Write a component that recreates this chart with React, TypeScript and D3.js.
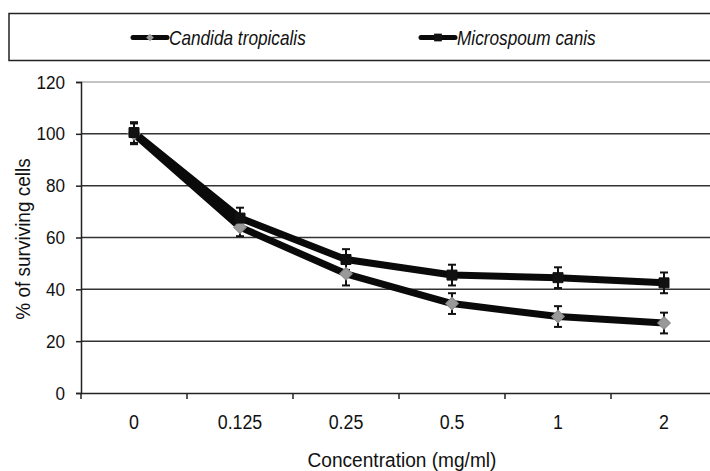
import { useEffect, useRef } from "react";
import * as d3 from "d3";

const categories = ["0", "0.125", "0.25", "0.5", "1", "2"];
const candida = [100, 64, 46, 34.5, 29.5, 27];
const candidaErr = [4, 3.5, 4.5, 4, 4, 4];
const microsporum = [100.5, 67.5, 51.5, 45.5, 44.5, 42.5];
const microsporumErr = [4, 4, 4, 4, 4, 4];
const yTicks = [0, 20, 40, 60, 80, 100, 120];

const FONT = "'Liberation Sans', Arial, sans-serif";

// the original uses a narrow face; squeeze Liberation Sans sideways
function narrow(sel: any, k: number, origin: string) {
  sel
    .style("transform-box", "fill-box")
    .style("transform-origin", origin)
    .style("transform", `scaleX(${k})`);
}

export default function App() {
  const svgRef = useRef<SVGSVGElement>(null);

  useEffect(() => {
    if (!svgRef.current) return;
    const svg = d3.select(svgRef.current);
    svg.selectAll("*").remove();

    const width = 710;
    const height = 471;
    const left = 81;
    const right = 717; // plot runs a bit past the picture edge
    const top = 82;
    const bottom = 393;

    svg.append("rect").attr("width", width).attr("height", height).attr("fill", "#fff");

    const x = d3.scaleBand<string>().domain(categories).range([left, right]).padding(0);
    const y = d3.scaleLinear().domain([0, 120]).range([bottom, top]);
    const cx = (i: number) => (x(categories[i]) ?? 0) + x.bandwidth() / 2;

    // gridlines
    svg
      .append("g")
      .selectAll("line")
      .data(yTicks.filter((t) => t > 0))
      .join("line")
      .attr("x1", left)
      .attr("x2", right)
      .attr("y1", (d) => y(d))
      .attr("y2", (d) => y(d))
      .attr("stroke", (d) => (d === 120 ? "#b0b0b0" : "#333"))
      .attr("stroke-width", 1.5);

    // y axis
    const yAxis = svg
      .append("g")
      .attr("transform", `translate(${left},0)`)
      .call(d3.axisLeft(y).tickValues(yTicks).tickSize(5).tickPadding(11));
    yAxis.select(".domain").attr("stroke", "#222").attr("stroke-width", 1.5);
    yAxis.selectAll(".tick line").attr("stroke", "#222").attr("stroke-width", 1.5);
    const yText = yAxis
      .selectAll(".tick text")
      .attr("font-family", FONT)
      .attr("font-size", 19)
      .attr("fill", "#111");
    narrow(yText, 0.9, "right center");

    // x axis
    const xAxis = svg
      .append("g")
      .attr("transform", `translate(0,${bottom})`)
      .call(d3.axisBottom(x).tickSize(0).tickPadding(22));
    xAxis.select(".domain").attr("stroke", "#222").attr("stroke-width", 1.5);
    const xText = xAxis
      .selectAll(".tick text")
      .attr("font-family", FONT)
      .attr("font-size", 20)
      .attr("fill", "#111");
    narrow(xText, 0.89, "center");
    // boundary ticks between categories
    svg
      .append("g")
      .selectAll("line")
      .data(categories)
      .join("line")
      .attr("x1", (d) => x(d) ?? 0)
      .attr("x2", (d) => x(d) ?? 0)
      .attr("y1", bottom)
      .attr("y2", bottom + 6)
      .attr("stroke", "#222")
      .attr("stroke-width", 1.5);

    // axis titles
    const xTitle = svg
      .append("text")
      .attr("x", 402)
      .attr("y", 467)
      .attr("text-anchor", "middle")
      .attr("font-family", FONT)
      .attr("font-size", 21)
      .attr("fill", "#111")
      .text("Concentration (mg/ml)");
    narrow(xTitle, 0.91, "center");
    const yTitle = svg
      .append("g")
      .attr("transform", `translate(30,239) rotate(-90)`)
      .append("text")
      .attr("text-anchor", "middle")
      .attr("font-family", FONT)
      .attr("font-size", 20)
      .attr("fill", "#111")
      .text("% of surviving cells");
    narrow(yTitle, 0.95, "center");

    const line = d3
      .line<number>()
      .x((_, i) => cx(i))
      .y((d) => y(d));

    const series = [
      { name: "Candida tropicalis", values: candida, err: candidaErr, marker: "diamond" },
      { name: "Microspoum canis", values: microsporum, err: microsporumErr, marker: "square" },
    ];

    series.forEach((s) => {
      svg
        .append("path")
        .datum(s.values)
        .attr("d", line)
        .attr("fill", "none")
        .attr("stroke", "#0a0a0a")
        .attr("stroke-width", 7)
        .attr("stroke-linejoin", "round");
    });

    // error bars
    series.forEach((s) => {
      const g = svg.append("g").attr("stroke", "#111").attr("stroke-width", 2);
      s.values.forEach((v, i) => {
        const x0 = cx(i);
        const y1 = y(v + s.err[i]);
        const y2 = y(v - s.err[i]);
        g.append("line").attr("x1", x0).attr("x2", x0).attr("y1", y1).attr("y2", y2);
        g.append("line").attr("x1", x0 - 4).attr("x2", x0 + 4).attr("y1", y1).attr("y2", y1);
        g.append("line").attr("x1", x0 - 4).attr("x2", x0 + 4).attr("y1", y2).attr("y2", y2);
      });
    });

    const diamond = d3.symbol(d3.symbolSquare, 80);
    const square = d3.symbol(d3.symbolSquare, 100);

    series.forEach((s) => {
      svg
        .append("g")
        .selectAll("path")
        .data(s.values)
        .join("path")
        .attr("d", s.marker === "diamond" ? diamond() : square())
        .attr("transform", (d, i) =>
          `translate(${cx(i)},${y(d)})${s.marker === "diamond" ? " rotate(45)" : ""}`,
        )
        .attr("fill", s.marker === "diamond" ? "#999" : "#111")
        .attr("stroke", s.marker === "diamond" ? "#8a8a8a" : "#111")
        .attr("stroke-width", 1);
    });

    // legend
    const legend = svg.append("g");
    legend
      .append("rect")
      .attr("x", 9)
      .attr("y", 13.5)
      .attr("width", 720)
      .attr("height", 47)
      .attr("fill", "#fff")
      .attr("stroke", "#222")
      .attr("stroke-width", 1.5);

    const legendX = [133, 421];
    series.forEach((s, i) => {
      const lx = legendX[i];
      const ly = 37.5;
      legend
        .append("line")
        .attr("x1", lx)
        .attr("x2", lx + 34)
        .attr("y1", ly)
        .attr("y2", ly)
        .attr("stroke", "#0a0a0a")
        .attr("stroke-width", 5)
        .attr("stroke-linecap", "round");
      legend
        .append("path")
        .attr("d", s.marker === "diamond" ? d3.symbol(d3.symbolSquare, 30)() : d3.symbol(d3.symbolSquare, 60)())
        .attr("transform", `translate(${lx + 17},${ly})${s.marker === "diamond" ? " rotate(45)" : ""}`)
        .attr("fill", s.marker === "diamond" ? "#999" : "#111");
      const t = legend
        .append("text")
        .attr("x", lx + 36)
        .attr("y", 45)
        .attr("font-family", FONT)
        .attr("font-size", 21)
        .attr("font-style", "italic")
        .attr("fill", "#111")
        .text(s.name);
      narrow(t, 0.82, "left center");
    });
  }, []);

  return (
    <div style={{ position: "absolute", left: 0, top: 0 }}>
      <svg ref={svgRef} width={710} height={471} style={{ display: "block" }} />
    </div>
  );
}
